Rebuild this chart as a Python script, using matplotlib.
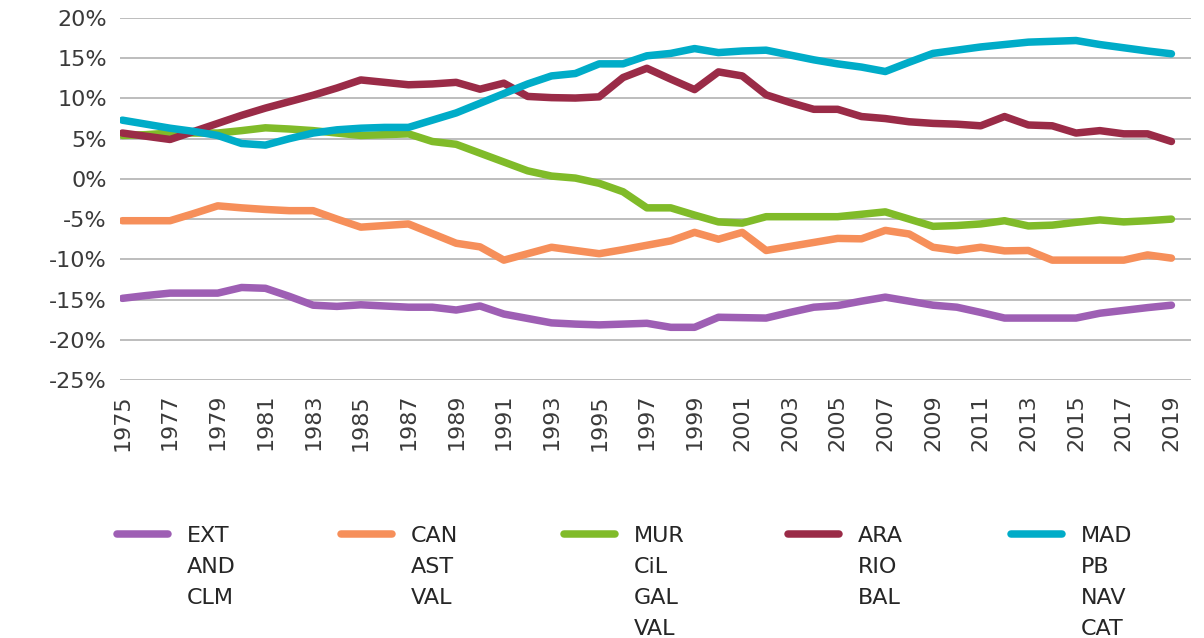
import matplotlib
matplotlib.use("Agg")
import matplotlib.pyplot as plt
from matplotlib.lines import Line2D
import numpy as np

years = list(range(1975, 2020))

ext = [-14.85, -14.5, -14.2, -14.2, -14.2, -13.5, -13.6, -14.6, -15.7, -15.85,
       -15.65, -15.8, -15.95, -15.95, -16.3, -15.8, -16.8, -17.35, -17.9, -18.05,
       -18.15, -18.05, -17.95, -18.45, -18.45, -17.2, -17.25, -17.3, -16.6, -15.95,
       -15.75, -15.2, -14.7, -15.2, -15.7, -15.95, -16.6, -17.3, -17.3, -17.3,
       -17.3, -16.7, -16.35, -16.0, -15.7]
can = [-5.2, -5.2, -5.2, -4.3, -3.35, -3.6, -3.8, -3.95, -3.95, -5.0,
       -6.0, -5.8, -5.6, -6.8, -8.0, -8.45, -10.1, -9.3, -8.5, -8.9,
       -9.3, -8.8, -8.25, -7.7, -6.65, -7.5, -6.65, -8.9, -8.4, -7.9,
       -7.4, -7.45, -6.4, -6.85, -8.5, -8.9, -8.5, -8.95, -8.9, -10.1,
       -10.1, -10.1, -10.1, -9.45, -9.85]
mur = [5.4, 5.5, 5.7, 5.7, 5.7, 6.0, 6.35, 6.2, 6.0, 5.7,
       5.4, 5.5, 5.6, 4.65, 4.3, 3.2, 2.1, 1.0, 0.35, 0.1,
       -0.55, -1.6, -3.6, -3.6, -4.5, -5.35, -5.5, -4.7, -4.7, -4.7,
       -4.7, -4.4, -4.1, -5.0, -5.9, -5.8, -5.6, -5.2, -5.85, -5.75,
       -5.4, -5.1, -5.35, -5.2, -5.0]
ara = [5.7, 5.3, 4.9, 5.9, 6.9, 7.9, 8.8, 9.6, 10.4, 11.3,
       12.3, 12.0, 11.7, 11.8, 12.0, 11.15, 11.9, 10.25, 10.1, 10.05,
       10.2, 12.6, 13.75, 12.4, 11.1, 13.3, 12.8, 10.45, 9.5, 8.65,
       8.65, 7.75, 7.5, 7.1, 6.9, 6.8, 6.6, 7.75, 6.7, 6.6,
       5.7, 6.0, 5.6, 5.6, 4.65]
mad = [7.3, 6.8, 6.3, 5.9, 5.4, 4.4, 4.2, 5.0, 5.7, 6.1,
       6.3, 6.4, 6.4, 7.3, 8.2, 9.4, 10.6, 11.8, 12.8, 13.1,
       14.3, 14.3, 15.3, 15.6, 16.2, 15.7, 15.9, 16.0, 15.4, 14.8,
       14.3, 13.9, 13.35, 14.5, 15.6, 16.0, 16.4, 16.7, 17.0, 17.1,
       17.2, 16.7, 16.3, 15.9, 15.55]

series = [ext, can, mur, ara, mad]
legend_labels = [["EXT", "AND", "CLM"],
                 ["CAN", "AST", "VAL"],
                 ["MUR", "CiL", "GAL", "VAL"],
                 ["ARA", "RIO", "BAL"],
                 ["MAD", "PB", "NAV", "CAT"]]
colors = ["#9e5fb4", "#f68f5a", "#80bb29", "#9a2b47", "#00acc8"]

y_ticks = [20, 15, 10, 5, 0, -5, -10, -15, -20, -25]
x_ticks = list(range(1975, 2020, 2))

W, H = 1204, 638
fig = plt.figure(figsize=(W / 100, H / 100), dpi=100)
ax = fig.add_axes([119.5 / W, 1 - 380 / H, (1190.5 - 119.5) / W, (380 - 18) / H])

for vals, c in zip(series, colors):
    ax.plot(years, vals, color=c, lw=5.4, solid_capstyle="round",
            solid_joinstyle="round", zorder=3)

ax.set_ylim(-25, 20)
ax.set_xlim(1974.88, 2019.8)
ax.set_yticks(y_ticks)
ax.set_yticklabels([f"{v}%" for v in y_ticks])
ax.set_xticks(x_ticks)
ax.set_xticklabels([str(x) for x in x_ticks], rotation=90)
ax.grid(axis="y", color="#bdbdbd", lw=1.4)
ax.set_axisbelow(True)
for s in ax.spines.values():
    s.set_visible(False)
ax.tick_params(axis="both", length=0, labelsize=16, colors="#3a3a3a")
ax.tick_params(axis="y", pad=9)
ax.tick_params(axis="x", pad=10)

# legend (manual, 5 columns)
col_x0 = 117
col_dx = 223.5
for i, (labs, c) in enumerate(zip(legend_labels, colors)):
    x = col_x0 + i * col_dx
    fig.add_artist(Line2D([x / W, (x + 51) / W], [1 - 533.5 / H, 1 - 533.5 / H],
                          color=c, lw=5.4, solid_capstyle="round",
                          transform=fig.transFigure))
    for j, t in enumerate(labs):
        fig.text((x + 70) / W, 1 - (542 + j * 31) / H, t, fontsize=16,
                 color="#262626", ha="left", va="baseline")

fig.savefig("out.png", dpi=100)
